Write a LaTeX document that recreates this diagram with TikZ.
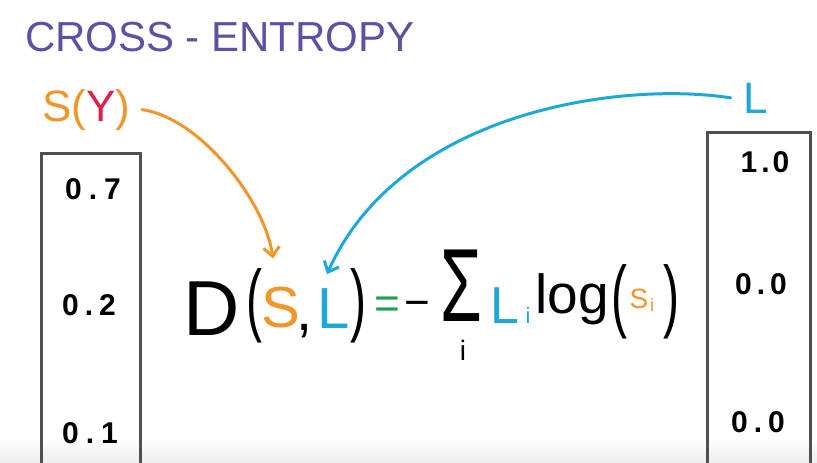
\documentclass[tikz,border=0pt]{standalone}
\usepackage{fontspec}
\setmainfont{Liberation Sans}
\usetikzlibrary{arrows.meta}
\definecolor{titlepurple}{HTML}{5B52A8}
\definecolor{hor}{HTML}{F0962A}
\definecolor{hred}{HTML}{E0204A}
\definecolor{hblue}{HTML}{1EA8D8}
\definecolor{hgreen}{HTML}{1FA050}
\definecolor{boxgray}{HTML}{505050}
\tikzset{
  txt/.style={inner sep=0pt, outer sep=0pt, anchor=base},
  num/.style={txt, font=\fontsize{30}{30}\selectfont\bfseries, text=black},
  eq/.style={txt, font=\fontsize{58}{58}\selectfont},
  paren/.style={txt, font=\fontsize{80}{80}\selectfont, xscale=0.6},
  vbox/.style={draw=boxgray, line width=3pt, fill=none},
  hand/.style={line width=3pt, line cap=round, -{Straight Barb[length=9pt,width=16pt,line width=3pt]}}
}
\begin{document}
\begin{tikzpicture}[x=1pt,y=-1pt]
\useasboundingbox[fill=white] (0,0) rectangle (817,463);
\shade[top color=white, bottom color=black!7] (0,438) rectangle (817,463);
% title
\node[txt, anchor=base west, font=\fontsize{42}{42}\selectfont, text=titlepurple] (title) at (25,51) {CROSS - ENTROPY};
% S(Y)
\node[txt, anchor=base west, font=\fontsize{44}{44}\selectfont, text=hor] (sy) at (42,121) {S(\textcolor{hred}{Y})};
% L label
\node[txt, font=\fontsize{44}{44}\selectfont, text=hblue] (ltop) at (756,113) {L};
% boxes
\draw[vbox] (41,153) rectangle (140,475);
\draw[vbox] (707,132) rectangle (810,475);
% left values
\node[num] (s1) at (93,199) {0\kern7pt.\kern7pt7};
\node[num] (s2) at (89,315) {0\kern6pt.\kern6pt2};
\node[num] (s3) at (90,443) {0\kern7pt.\kern7pt1};
% right values
\node[num] (l1) at (765,172) {1\kern4pt.\kern3pt0};
\node[num] (l2) at (761,294) {0\kern5pt.\kern5pt0};
\node[num] (l3) at (758,432) {0\kern6pt.\kern6pt0};
% equation
\node[txt, font=\fontsize{78}{78}\selectfont] (D) at (212,335) {D};
\node[paren] (p1) at (254,326) {(};
\node[eq, text=hor] (S) at (281,327) {S};
\node[eq] (comma) at (305,330) {,};
\node[eq, text=hblue] (L) at (334,328) {L};
\node[paren] (p2) at (358,326) {)};
\node[txt, font=\fontsize{44}{44}\selectfont, text=hgreen] (eqs) at (387,318) {=};
\node[txt, font=\fontsize{44}{44}\selectfont] (minus) at (417,317) {−};
\node[txt, font=\fontsize{104}{104}\selectfont, xscale=0.65, text depth=0pt] (sum) at (461,321) {Σ};
\node[txt, font=\fontsize{28}{28}\selectfont, text height=18pt] (sumi) at (463,360) {i};
\node[txt, font=\fontsize{52}{52}\selectfont, text=hblue] (Li) at (505,323) {L};
\node[txt, font=\fontsize{22}{22}\selectfont, text=hblue] (Lsub) at (528,323) {i};
\node[txt, font=\fontsize{55}{55}\selectfont] (log) at (572,313) {log};
\node[paren] (p3) at (619,322) {(};
\node[txt, font=\fontsize{28}{28}\selectfont, text=hor] (Si) at (639,308) {S};
\node[txt, font=\fontsize{18}{18}\selectfont, text=hor] (Ssub) at (652,311) {i};
\node[paren] (p4) at (671,322) {)};
% connectors
\draw[hand, hor] ([xshift=12pt]sy.east) .. controls +(58,8) and +(-8,-57) .. ([xshift=-8pt,yshift=28pt]S.north);
\draw[hand, hblue] ([xshift=-13pt]ltop.west) .. controls +(-110,-17) and +(73,-163) .. ([xshift=-7pt,yshift=14pt]L.north);
\end{tikzpicture}
\end{document}
